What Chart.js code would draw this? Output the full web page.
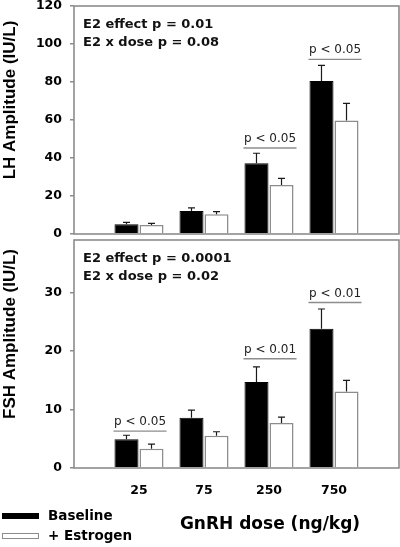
<!DOCTYPE html>
<html>
<head>
<meta charset="utf-8">
<script src="https://cdn.jsdelivr.net/npm/chart.js@4.4.1/dist/chart.umd.min.js"></script>
<style>
  html, body { margin: 0; padding: 0; background: #fff; }
  #wrap { position: relative; width: 400px; height: 547px; overflow: hidden; }
  canvas { position: absolute; left: 0; }
  #lhChart { top: 0; }
  #fshChart { top: 238px; }
</style>
</head>
<body>
<div id="wrap">
  <canvas id="lhChart" width="400" height="238"></canvas>
  <canvas id="fshChart" width="400" height="309"></canvas>
</div>
<script>
// DATA
const doses = ["25", "75", "250", "750"];
const seriesNames = ["Baseline", "+ Estrogen"];
const xTitle = "GnRH dose (ng/kg)";

// LH panel
const lhBaseline = [5.1, 12.1, 37.2, 80.5];
const lhBaselineSem = [1.0, 1.6, 5.3, 8.3];
const lhEstrogen = [4.7, 10.4, 25.8, 59.8];
const lhEstrogenSem = [0.9, 1.4, 3.5, 9.0];
const lhTicks = [0, 20, 40, 60, 80, 100, 120];
const lhStats = ["E2 effect p = 0.01", "E2 x dose p = 0.08"];
const lhSigDose = ["250", "750"];
const lhSigLevel = [45.3, 91.9];
const lhSigText = ["p < 0.05", "p < 0.05"];

// FSH panel
const fshBaseline = [4.9, 8.6, 14.7, 23.8];
const fshBaselineSem = [0.7, 1.3, 2.6, 3.4];
const fshEstrogen = [3.3, 5.5, 7.7, 13.1];
const fshEstrogenSem = [0.8, 0.7, 1.0, 1.9];
const fshTicks = [0, 10, 20, 30];
const fshStats = ["E2 effect p = 0.0001", "E2 x dose p = 0.02"];
const fshSigDose = ["25", "250", "750"];
const fshSigLevel = [6.3, 18.7, 28.3];
const fshSigText = ["p < 0.05", "p < 0.01", "p < 0.01"];

const FRAME = "#8c8c8c";
const WIDE = "'DejaVu Sans', sans-serif";
const ARIAL = "'Liberation Sans', Arial, sans-serif";

// error bars, frame, p-values, stats text, axis title (and legend on the last panel)
function panelPlugin(p) {
  return {
    id: "panel",
    afterDatasetsDraw(chart) {
      const { ctx, chartArea: a, scales } = chart;
      const y = scales.y;
      ctx.save();

      // upper error bars
      ctx.strokeStyle = "#1a1a1a";
      ctx.lineWidth = 1.2;
      p.sems.forEach((sem, di) => {
        const meta = chart.getDatasetMeta(di);
        const vals = chart.data.datasets[di].data;
        sem.forEach((s, i) => {
          const bar = meta.data[i + 1];
          const yTop = y.getPixelForValue(vals[i + 1] + s);
          ctx.beginPath();
          ctx.moveTo(bar.x, bar.y);
          ctx.lineTo(bar.x, yTop);
          ctx.moveTo(bar.x - 3.5, yTop);
          ctx.lineTo(bar.x + 3.5, yTop);
          ctx.stroke();
        });
      });

      // frame
      ctx.strokeStyle = FRAME;
      ctx.lineWidth = 1.6;
      ctx.strokeRect(a.left, a.top, a.right - a.left, a.bottom - a.top);

      // significance brackets
      const m0 = chart.getDatasetMeta(0), m1 = chart.getDatasetMeta(1);
      p.sigDose.forEach((d, k) => {
        const i = chart.data.labels.indexOf(d);
        const b0 = m0.data[i], b1 = m1.data[i];
        const left = b0.x - b0.width / 2 - 1;
        const right = b1.x + b1.width / 2 + 3;
        const ly = y.getPixelForValue(p.sigLevel[k]);
        ctx.strokeStyle = FRAME;
        ctx.lineWidth = 1.4;
        ctx.beginPath();
        ctx.moveTo(left, ly);
        ctx.lineTo(right, ly);
        ctx.stroke();
        ctx.fillStyle = "#222";
        ctx.font = "12px " + WIDE;
        ctx.textAlign = "center";
        ctx.textBaseline = "alphabetic";
        ctx.fillText(p.sigText[k], (left + right) / 2, ly - 6);
      });

      // stats
      ctx.fillStyle = "#111";
      ctx.font = "bold 13px " + WIDE;
      ctx.textAlign = "left";
      ctx.textBaseline = "middle";
      p.stats.forEach((t, k) => ctx.fillText(t, a.left + 9, a.top + 19 + k * 18));

      // y title
      ctx.save();
      ctx.translate(10, (a.top + a.bottom) / 2 - 20);
      ctx.rotate(-Math.PI / 2);
      ctx.fillStyle = "#000";
      ctx.font = "bold 17px " + ARIAL;
      ctx.textAlign = "center";
      ctx.textBaseline = "middle";
      ctx.fillText(p.title, 0, 0);
      ctx.restore();

      if (p.footer) {
        ctx.fillStyle = "#000";
        ctx.font = "bold 17px " + WIDE;
        ctx.textAlign = "center";
        ctx.textBaseline = "middle";
        ctx.fillText(xTitle, 270, 287);

        chart.data.datasets.forEach((ds, i) => {
          const yy = 278 + i * 20;
          ctx.fillStyle = ds.backgroundColor;
          ctx.fillRect(2, yy - 3, 37, 6);
          if (i > 0) {
            ctx.strokeStyle = FRAME;
            ctx.lineWidth = 1;
            ctx.strokeRect(2.5, yy - 2.5, 36, 5);
          }
          ctx.fillStyle = "#000";
          ctx.font = "bold 13.5px " + WIDE;
          ctx.textAlign = "left";
          ctx.fillText(ds.label, 48, yy);
        });
      }
      ctx.restore();
    }
  };
}

// no extra room for half tick labels: the frame sits exactly on the padding
function noPad(s) {
  s.paddingTop = 0;
  s.paddingBottom = 0;
  s.paddingLeft = 0;
  s.paddingRight = 0;
}

function makePanel(id, o) {
  return new Chart(document.getElementById(id), {
    type: "bar",
    data: {
      labels: ["", ...doses, ""],
      datasets: [
        {
          label: seriesNames[0],
          data: [null, ...o.base, null],
          backgroundColor: "#000",
          borderColor: "#000",
          borderWidth: 1,
          categoryPercentage: 0.77,
          barPercentage: 0.96
        },
        {
          label: seriesNames[1],
          data: [null, ...o.estr, null],
          backgroundColor: "#fff",
          borderColor: FRAME,
          borderWidth: 1.5,
          categoryPercentage: 0.77,
          barPercentage: 0.96
        }
      ]
    },
    options: {
      responsive: false,
      animation: false,
      layout: { padding: o.padding },
      plugins: { legend: { display: false }, tooltip: { enabled: false } },
      scales: {
        x: {
          offset: false,
          grid: { display: false },
          border: { display: false },
          ticks: {
            display: o.showX,
            autoSkip: false,
            maxRotation: 0,
            padding: 7,
            color: "#000",
            font: { family: WIDE, size: 12.5, weight: "bold" }
          },
          afterFit: s => { s.height = o.xHeight; noPad(s); }
        },
        y: {
          min: 0,
          max: o.max,
          grid: { drawOnChartArea: false, color: FRAME, lineWidth: 1.5, tickLength: 4 },
          border: { display: false },
          ticks: {
            padding: 8,
            color: "#000",
            font: { family: WIDE, size: 12.5, weight: "bold" }
          },
          afterBuildTicks: s => { s.ticks = o.ticks.map(v => ({ value: v })); },
          afterFit: s => { s.width = 74; noPad(s); }
        }
      }
    },
    plugins: [panelPlugin(o)]
  });
}

makePanel("lhChart", {
  base: lhBaseline, estr: lhEstrogen,
  sems: [lhBaselineSem, lhEstrogenSem],
  ticks: lhTicks, max: 120,
  stats: lhStats, sigDose: lhSigDose, sigLevel: lhSigLevel, sigText: lhSigText,
  title: "LH Amplitude (IU/L)",
  padding: { top: 6, right: 1, bottom: 4, left: 0 },
  showX: false, xHeight: 0, footer: false
});

makePanel("fshChart", {
  base: fshBaseline, estr: fshEstrogen,
  sems: [fshBaselineSem, fshEstrogenSem],
  ticks: fshTicks, max: 39,
  stats: fshStats, sigDose: fshSigDose, sigLevel: fshSigLevel, sigText: fshSigText,
  title: "FSH Amplitude (IU/L)",
  padding: { top: 2, right: 1, bottom: 0, left: 0 },
  showX: true, xHeight: 79, footer: true
});
</script>
</body>
</html>
